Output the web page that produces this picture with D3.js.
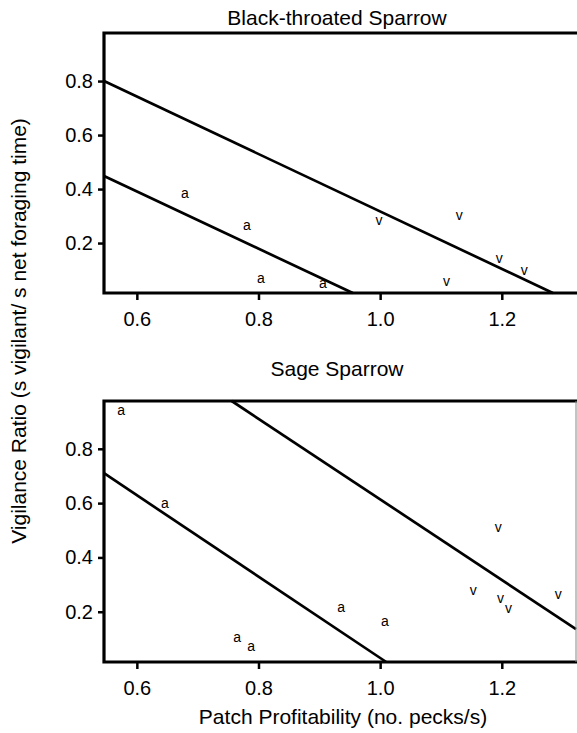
<!DOCTYPE html>
<html lang="en">
<head>
  <meta charset="UTF-8">
  <title>Vigilance Ratio vs Patch Profitability</title>
  <script src="https://d3js.org/d3.v7.min.js"></script>
  <style>
    html, body {
      margin: 0;
      padding: 0;
      background: #fff;
    }
    svg {
      display: block;
      font-family: "Liberation Sans", Arial, sans-serif;
    }
    .frame {
      fill: none;
      stroke: #000;
      stroke-width: 3.2px;
    }
    .fit {
      fill: none;
      stroke: #000;
      stroke-width: 2.7px;
    }
    .tick line {
      stroke: #000;
      stroke-width: 2.5px;
    }
    .tick text {
      font-size: 20px;
      fill: #000;
    }
    .pt {
      font-size: 14px;
      text-anchor: middle;
      fill: #000;
    }
    .title, .xlabel, .ylabel {
      font-size: 21px;
      text-anchor: middle;
    }
  </style>
</head>
<body>
  <svg id="chart" width="577" height="733"></svg>

  <script>
    // axis ticks
    const xTicks = [0.6, 0.8, 1.0, 1.2];
    const yTicks = [0.2, 0.4, 0.6, 0.8];
    const xDomain = [0.546, 1.322];

    // Black-throated Sparrow
    const btTitle = "Black-throated Sparrow";
    const btAx = [0.679, 0.781, 0.804, 0.906];
    const btAy = [0.381, 0.263, 0.067, 0.048];
    const btVx = [0.998, 1.130, 1.196, 1.237, 1.109];
    const btVy = [0.281, 0.300, 0.141, 0.096, 0.056];
    const btLines = [
      [[0.546, 0.800], [1.284, 0.015]],
      [[0.546, 0.448], [0.955, 0.015]]
    ];
    const btYDomain = [0.015, 0.978];

    // Sage Sparrow
    const ssTitle = "Sage Sparrow";
    const ssAx = [0.574, 0.646, 0.765, 0.788, 0.936, 1.008];
    const ssAy = [0.940, 0.598, 0.103, 0.070, 0.213, 0.162];
    const ssVx = [1.194, 1.153, 1.198, 1.211, 1.293];
    const ssVy = [0.510, 0.276, 0.247, 0.210, 0.261];
    const ssLines = [
      [[0.756, 0.976], [1.322, 0.136]],
      [[0.546, 0.710], [1.010, 0.015]]
    ];
    const ssYDomain = [0.015, 0.976];

    const svg = d3.select("#chart");
    const left = 104, right = 576;

    const panels = [
      { title: btTitle, ax: btAx, ay: btAy, vx: btVx, vy: btVy, lines: btLines,
        yDomain: btYDomain, top: 33, bottom: 293, titleY: 25, rightEdge: false },
      { title: ssTitle, ax: ssAx, ay: ssAy, vx: ssVx, vy: ssVy, lines: ssLines,
        yDomain: ssYDomain, top: 401, bottom: 662, titleY: 376, rightEdge: true }
    ];

    const x = d3.scaleLinear().domain(xDomain).range([left, right]);

    panels.forEach(p => {
      const y = d3.scaleLinear().domain(p.yDomain).range([p.bottom, p.top]);
      const g = svg.append("g");

      g.append("text")
        .attr("class", "title")
        .attr("x", 337)
        .attr("y", p.titleY)
        .text(p.title);

      // regression lines
      const line = d3.line().x(d => x(d[0])).y(d => y(d[1]));
      g.selectAll(".fit")
        .data(p.lines)
        .join("path")
        .attr("class", "fit")
        .attr("d", line);

      // point letters
      const aPts = p.ax.map((v, i) => ({ x: v, y: p.ay[i], s: "a" }));
      const vPts = p.vx.map((v, i) => ({ x: v, y: p.vy[i], s: "v" }));
      g.selectAll(".pt")
        .data(aPts.concat(vPts))
        .join("text")
        .attr("class", "pt")
        .attr("x", d => x(d.x))
        .attr("y", d => y(d.y))
        .attr("dy", "0.3em")
        .text(d => d.s);

      // frame: left, top, bottom
      g.append("path")
        .attr("class", "frame")
        .attr("d", `M${right + 2},${p.top}H${left}V${p.bottom}H${right + 2}`);
      if (p.rightEdge) {
        g.append("line")
          .attr("x1", right).attr("x2", right)
          .attr("y1", p.top).attr("y2", p.bottom)
          .attr("stroke", "#888").attr("stroke-width", 1);
      }

      const yAxis = g.append("g")
        .attr("transform", `translate(${left - 1},0)`)
        .call(d3.axisLeft(y).tickValues(yTicks).tickSize(5).tickPadding(5)
          .tickFormat(d3.format(".1f")));
      yAxis.select(".domain").remove();

      const xAxis = g.append("g")
        .attr("transform", `translate(0,${p.bottom + 1})`)
        .call(d3.axisBottom(x).tickValues(xTicks).tickSize(6).tickPadding(12)
          .tickFormat(d3.format(".1f")));
      xAxis.select(".domain").remove();
    });

    svg.append("text")
      .attr("class", "xlabel")
      .attr("x", 343)
      .attr("y", 724)
      .text("Patch Profitability (no. pecks/s)");

    svg.append("text")
      .attr("class", "ylabel")
      .attr("transform", "translate(26,331) rotate(-90)")
      .text("Vigilance Ratio (s vigilant/ s net foraging time)");
  </script>
</body>
</html>
